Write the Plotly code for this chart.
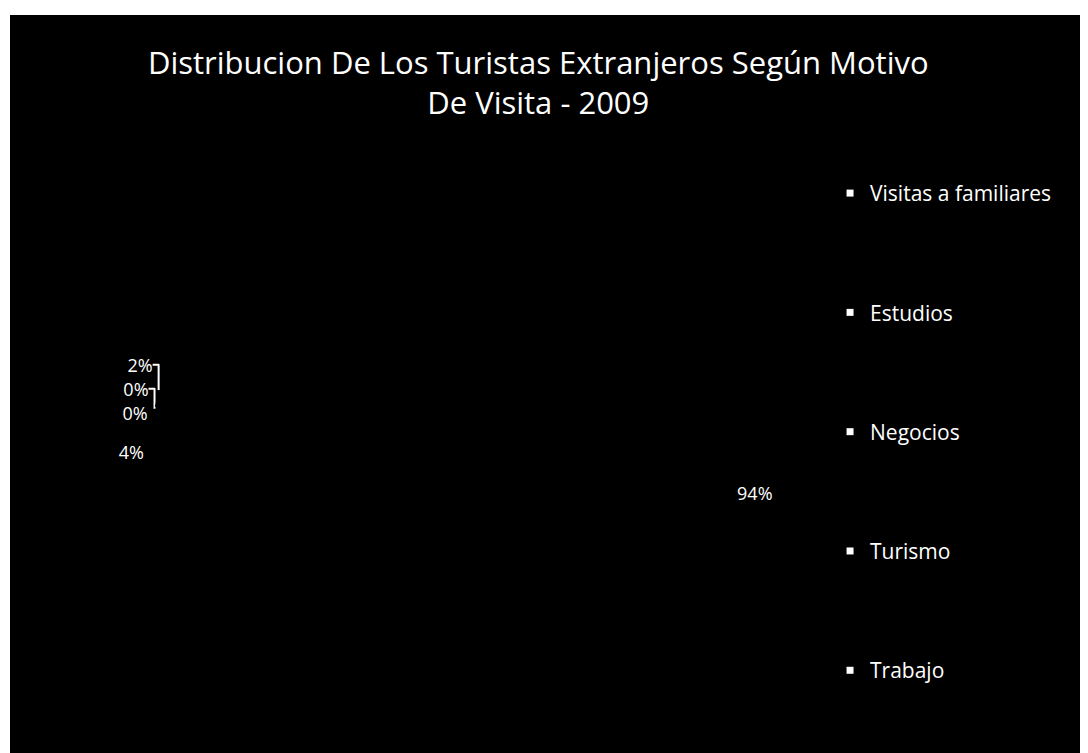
import plotly.graph_objects as go

categories = ["Visitas a familiares", "Estudios", "Negocios", "Turismo", "Trabajo"]
values = [0.3, 0.2, 1.9, 93.6, 4.0]
title_text = "Distribucion De Los Turistas Extranjeros Según Motivo<br>De Visita - 2009"

FONT = "Open Sans"

fig = go.Figure()

fig.add_trace(go.Pie(
    labels=categories,
    values=values,
    sort=False,
    direction="clockwise",
    rotation=279,
    marker=dict(colors=["#000000"] * len(categories), line=dict(color="#000000", width=0)),
    textposition="outside",
    texttemplate="%{percent:.0%}",
    textfont=dict(family=FONT, size=18, color="#ffffff"),
    outsidetextfont=dict(family=FONT, size=18, color="#ffffff"),
    domain=dict(x=[0.12, 0.68], y=[0.0, 0.79]),
    showlegend=False,
    hoverinfo="skip",
))

# legend entries (one per category)
for i, name in enumerate(categories):
    fig.add_trace(go.Scatter(
        x=[None], y=[None], mode="markers", name=name,
        legendgroup=f"g{i}",
        marker=dict(symbol="square", size=7, color="#ffffff"),
        showlegend=True, hoverinfo="skip",
    ))

fig.update_layout(
    width=1080,
    height=745,
    margin=dict(l=2, r=0, t=7, b=0, autoexpand=False),
    paper_bgcolor="#ffffff",
    plot_bgcolor="#000000",
    shapes=[dict(type="rect", xref="paper", yref="paper", x0=0, x1=1, y0=0, y1=1,
                 fillcolor="#000000", line=dict(width=0), layer="below")],
    xaxis=dict(visible=False),
    yaxis=dict(visible=False),
    title=dict(text=title_text, x=0.491, xref="container", xanchor="center",
               y=0.912, yref="container", yanchor="top",
               font=dict(family=FONT, size=31, color="#ffffff")),
    legend=dict(x=0.7607, xanchor="left", y=0.786, yanchor="top",
                font=dict(family=FONT, size=21, color="#ffffff"),
                bgcolor="rgba(0,0,0,0)", tracegroupgap=89, traceorder="grouped"),
    showlegend=True,
)

fig.write_html("out.html")
